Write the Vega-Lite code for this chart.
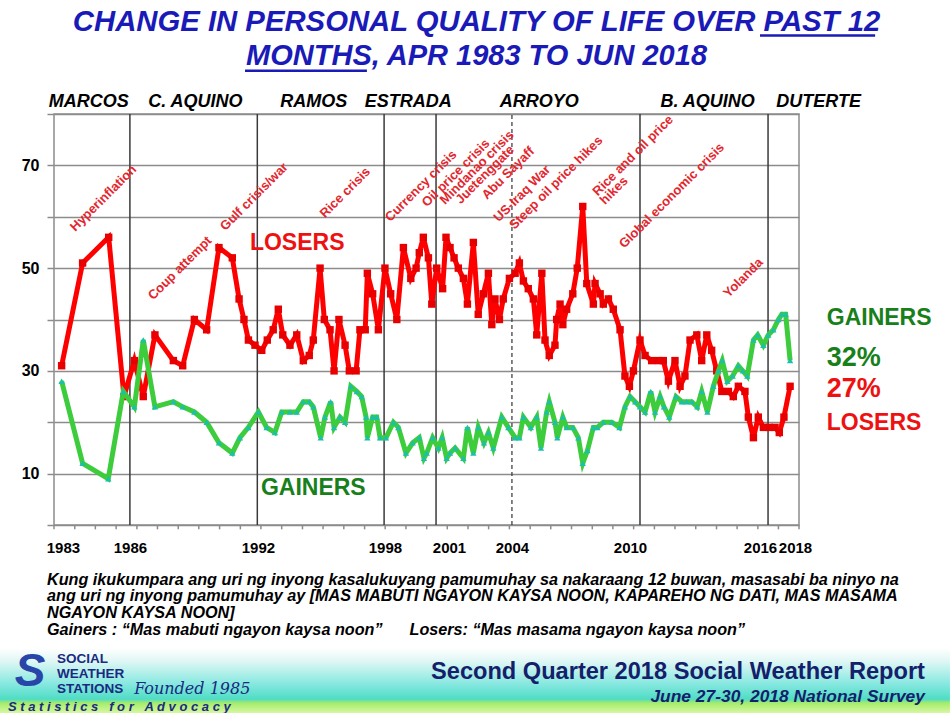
{
  "$schema": "https://vega.github.io/schema/vega-lite/v6.json",
  "width": 745,
  "height": 411,
  "autosize": {"type": "none"},
  "padding": {"left": 54, "top": 114, "right": 151, "bottom": 188},
  "background": "#ffffff",
  "config": {"view": {"stroke": "#8c8c8c", "strokeWidth": 1.5}, "font": "Liberation Sans"},
  "datasets": {
    "losers": [
      {"year": 1983.18, "pct": 31}, {"year": 1984.17, "pct": 51}, {"year": 1985.40, "pct": 56}, {"year": 1986.12, "pct": 25},
      {"year": 1986.61, "pct": 32}, {"year": 1987.03, "pct": 25}, {"year": 1987.58, "pct": 37}, {"year": 1988.45, "pct": 32},
      {"year": 1988.89, "pct": 31}, {"year": 1989.44, "pct": 40}, {"year": 1990.02, "pct": 38}, {"year": 1990.60, "pct": 54},
      {"year": 1991.23, "pct": 52}, {"year": 1991.55, "pct": 44}, {"year": 1991.78, "pct": 40}, {"year": 1991.99, "pct": 36},
      {"year": 1992.30, "pct": 35}, {"year": 1992.62, "pct": 34}, {"year": 1992.88, "pct": 36}, {"year": 1993.16, "pct": 38},
      {"year": 1993.40, "pct": 42}, {"year": 1993.61, "pct": 37}, {"year": 1993.95, "pct": 35}, {"year": 1994.27, "pct": 37},
      {"year": 1994.58, "pct": 32}, {"year": 1994.86, "pct": 33}, {"year": 1995.05, "pct": 36}, {"year": 1995.37, "pct": 50},
      {"year": 1995.57, "pct": 40}, {"year": 1995.84, "pct": 38}, {"year": 1996.03, "pct": 30}, {"year": 1996.26, "pct": 40},
      {"year": 1996.55, "pct": 35}, {"year": 1996.75, "pct": 30}, {"year": 1997.07, "pct": 30}, {"year": 1997.25, "pct": 38},
      {"year": 1997.50, "pct": 38}, {"year": 1997.60, "pct": 49}, {"year": 1997.85, "pct": 45}, {"year": 1998.12, "pct": 38},
      {"year": 1998.43, "pct": 50}, {"year": 1998.70, "pct": 45}, {"year": 1998.99, "pct": 40}, {"year": 1999.30, "pct": 54},
      {"year": 1999.65, "pct": 48}, {"year": 1999.90, "pct": 50}, {"year": 2000.05, "pct": 53}, {"year": 2000.24, "pct": 56},
      {"year": 2000.48, "pct": 52}, {"year": 2000.64, "pct": 43}, {"year": 2000.87, "pct": 50}, {"year": 2001.15, "pct": 46},
      {"year": 2001.31, "pct": 56}, {"year": 2001.50, "pct": 54}, {"year": 2001.69, "pct": 52}, {"year": 2001.89, "pct": 50},
      {"year": 2002.13, "pct": 48}, {"year": 2002.32, "pct": 43}, {"year": 2002.60, "pct": 55}, {"year": 2002.83, "pct": 41},
      {"year": 2003.07, "pct": 45}, {"year": 2003.31, "pct": 49}, {"year": 2003.47, "pct": 39}, {"year": 2003.62, "pct": 44},
      {"year": 2003.83, "pct": 40}, {"year": 2004.01, "pct": 44}, {"year": 2004.30, "pct": 48}, {"year": 2004.57, "pct": 49},
      {"year": 2004.77, "pct": 51}, {"year": 2004.96, "pct": 47.5}, {"year": 2005.19, "pct": 46}, {"year": 2005.43, "pct": 44},
      {"year": 2005.59, "pct": 37}, {"year": 2005.83, "pct": 49}, {"year": 2005.98, "pct": 36}, {"year": 2006.18, "pct": 33},
      {"year": 2006.45, "pct": 35}, {"year": 2006.53, "pct": 40}, {"year": 2006.69, "pct": 43}, {"year": 2006.82, "pct": 39},
      {"year": 2007.00, "pct": 42}, {"year": 2007.29, "pct": 45}, {"year": 2007.50, "pct": 50}, {"year": 2007.76, "pct": 62},
      {"year": 2007.95, "pct": 47}, {"year": 2008.26, "pct": 43}, {"year": 2008.34, "pct": 47}, {"year": 2008.58, "pct": 45},
      {"year": 2008.73, "pct": 43}, {"year": 2008.97, "pct": 44}, {"year": 2009.20, "pct": 42}, {"year": 2009.52, "pct": 38},
      {"year": 2009.75, "pct": 29}, {"year": 2009.96, "pct": 27}, {"year": 2010.15, "pct": 30}, {"year": 2010.46, "pct": 36},
      {"year": 2010.70, "pct": 33}, {"year": 2011.01, "pct": 32}, {"year": 2011.33, "pct": 32}, {"year": 2011.56, "pct": 32},
      {"year": 2011.80, "pct": 28}, {"year": 2012.11, "pct": 32}, {"year": 2012.35, "pct": 27}, {"year": 2012.58, "pct": 29},
      {"year": 2012.82, "pct": 36}, {"year": 2013.14, "pct": 37}, {"year": 2013.37, "pct": 32}, {"year": 2013.61, "pct": 37},
      {"year": 2013.84, "pct": 34}, {"year": 2014.08, "pct": 30}, {"year": 2014.32, "pct": 26}, {"year": 2014.63, "pct": 26},
      {"year": 2014.86, "pct": 25}, {"year": 2015.10, "pct": 27}, {"year": 2015.41, "pct": 26}, {"year": 2015.57, "pct": 21},
      {"year": 2015.81, "pct": 17}, {"year": 2016.04, "pct": 21}, {"year": 2016.28, "pct": 19}, {"year": 2016.56, "pct": 19},
      {"year": 2016.83, "pct": 19}, {"year": 2017.03, "pct": 18}, {"year": 2017.25, "pct": 21}, {"year": 2017.54, "pct": 27}
    ],
    "gainers": [
      {"year": 1983.18, "pct": 28}, {"year": 1984.17, "pct": 12}, {"year": 1985.38, "pct": 9}, {"year": 1986.09, "pct": 26},
      {"year": 1986.61, "pct": 23}, {"year": 1987.03, "pct": 36}, {"year": 1987.58, "pct": 23}, {"year": 1988.45, "pct": 24},
      {"year": 1988.89, "pct": 23}, {"year": 1989.44, "pct": 22}, {"year": 1990.02, "pct": 20}, {"year": 1990.60, "pct": 16},
      {"year": 1991.23, "pct": 14}, {"year": 1991.59, "pct": 17}, {"year": 1991.99, "pct": 19}, {"year": 1992.46, "pct": 22},
      {"year": 1992.85, "pct": 19}, {"year": 1993.24, "pct": 18}, {"year": 1993.56, "pct": 22}, {"year": 1993.95, "pct": 22},
      {"year": 1994.27, "pct": 22}, {"year": 1994.58, "pct": 24}, {"year": 1994.86, "pct": 24}, {"year": 1995.05, "pct": 23},
      {"year": 1995.40, "pct": 17}, {"year": 1995.60, "pct": 21}, {"year": 1995.87, "pct": 24}, {"year": 1996.03, "pct": 19},
      {"year": 1996.31, "pct": 21}, {"year": 1996.55, "pct": 20}, {"year": 1996.82, "pct": 27}, {"year": 1997.10, "pct": 26},
      {"year": 1997.33, "pct": 25}, {"year": 1997.54, "pct": 21}, {"year": 1997.60, "pct": 17}, {"year": 1997.85, "pct": 21},
      {"year": 1998.04, "pct": 21}, {"year": 1998.20, "pct": 17}, {"year": 1998.48, "pct": 17}, {"year": 1998.83, "pct": 20},
      {"year": 1999.06, "pct": 19}, {"year": 1999.42, "pct": 14}, {"year": 1999.74, "pct": 16}, {"year": 2000.05, "pct": 17},
      {"year": 2000.27, "pct": 13}, {"year": 2000.40, "pct": 14}, {"year": 2000.68, "pct": 17}, {"year": 2000.95, "pct": 15},
      {"year": 2001.13, "pct": 17}, {"year": 2001.34, "pct": 13}, {"year": 2001.50, "pct": 14}, {"year": 2001.74, "pct": 15},
      {"year": 2002.13, "pct": 13}, {"year": 2002.32, "pct": 19}, {"year": 2002.60, "pct": 14}, {"year": 2002.83, "pct": 19},
      {"year": 2003.10, "pct": 16}, {"year": 2003.31, "pct": 18}, {"year": 2003.54, "pct": 15}, {"year": 2003.94, "pct": 21},
      {"year": 2004.25, "pct": 19}, {"year": 2004.57, "pct": 17}, {"year": 2004.77, "pct": 17}, {"year": 2004.96, "pct": 21},
      {"year": 2005.31, "pct": 19}, {"year": 2005.59, "pct": 21}, {"year": 2005.79, "pct": 15}, {"year": 2006.06, "pct": 22},
      {"year": 2006.18, "pct": 24}, {"year": 2006.45, "pct": 20}, {"year": 2006.56, "pct": 17}, {"year": 2006.82, "pct": 21},
      {"year": 2007.00, "pct": 19}, {"year": 2007.29, "pct": 19}, {"year": 2007.55, "pct": 17}, {"year": 2007.76, "pct": 12},
      {"year": 2007.98, "pct": 14.5}, {"year": 2008.26, "pct": 19}, {"year": 2008.45, "pct": 19}, {"year": 2008.73, "pct": 20},
      {"year": 2009.13, "pct": 20}, {"year": 2009.49, "pct": 19}, {"year": 2009.75, "pct": 23}, {"year": 2009.99, "pct": 25},
      {"year": 2010.23, "pct": 24}, {"year": 2010.46, "pct": 23}, {"year": 2010.70, "pct": 22}, {"year": 2010.97, "pct": 26},
      {"year": 2011.17, "pct": 22}, {"year": 2011.41, "pct": 25}, {"year": 2011.59, "pct": 23}, {"year": 2011.84, "pct": 21},
      {"year": 2012.16, "pct": 25}, {"year": 2012.43, "pct": 24}, {"year": 2012.66, "pct": 24}, {"year": 2012.90, "pct": 24},
      {"year": 2013.16, "pct": 23}, {"year": 2013.37, "pct": 26}, {"year": 2013.64, "pct": 22}, {"year": 2013.92, "pct": 27},
      {"year": 2014.16, "pct": 30}, {"year": 2014.34, "pct": 32}, {"year": 2014.58, "pct": 28}, {"year": 2014.83, "pct": 29},
      {"year": 2015.10, "pct": 31}, {"year": 2015.31, "pct": 30}, {"year": 2015.52, "pct": 29}, {"year": 2015.81, "pct": 36},
      {"year": 2016.01, "pct": 37}, {"year": 2016.28, "pct": 35}, {"year": 2016.51, "pct": 37}, {"year": 2016.75, "pct": 38},
      {"year": 2016.99, "pct": 40}, {"year": 2017.15, "pct": 41}, {"year": 2017.33, "pct": 41}, {"year": 2017.54, "pct": 32}
    ]
  },
  "layer": [
    {
      "data": {"values": [{}]},
      "mark": {"type": "rect", "fill": {"gradient": "linear", "x1": 0, "y1": 0, "x2": 0, "y2": 1,
        "stops": [
          {"offset": 0, "color": "#ffffff"},
          {"offset": 0.2, "color": "#dff7f5"},
          {"offset": 0.55, "color": "#86e8e0"},
          {"offset": 0.78, "color": "#4fdcc4"},
          {"offset": 0.84, "color": "#a6ec6a"},
          {"offset": 1, "color": "#d9f8a6"}
        ]}},
      "encoding": {
        "x": {"datum": 1980.27, "type": "quantitative"}, "x2": {"datum": 2025.08},
        "y": {"datum": -23.96, "type": "quantitative"}, "y2": {"datum": -36.7}
      }
    },
    {
      "data": {"values": [{"year": 1986.40}, {"year": 1992.41}, {"year": 1998.39}, {"year": 2000.84}, {"year": 2010.46}, {"year": 2016.50}]},
      "mark": {"type": "rule", "color": "#3a3a3a", "strokeWidth": 1.5},
      "encoding": {
        "x": {"field": "year", "type": "quantitative"},
        "y": {"datum": 0, "type": "quantitative"}, "y2": {"datum": 80}
      }
    },
    {
      "data": {"values": [{"year": 2004.42}]},
      "mark": {"type": "rule", "color": "#333333", "strokeWidth": 1.2, "strokeDash": [4, 3]},
      "encoding": {
        "x": {"field": "year", "type": "quantitative"},
        "y": {"datum": 0, "type": "quantitative"}, "y2": {"datum": 80}
      }
    },
    {
      "data": {"values": [
        {"year": 1982.82}, {"year": 1983.80}, {"year": 1984.77}, {"year": 1985.75}, {"year": 1986.73}, {"year": 1987.70},
        {"year": 1988.68}, {"year": 1989.65}, {"year": 1990.63}, {"year": 1991.61}, {"year": 1992.58}, {"year": 1993.56},
        {"year": 1994.54}, {"year": 1995.51}, {"year": 1996.49}, {"year": 1997.47}, {"year": 1998.44}, {"year": 1999.42},
        {"year": 2000.40}, {"year": 2001.37}, {"year": 2002.35}, {"year": 2003.32}, {"year": 2004.30}, {"year": 2005.28},
        {"year": 2006.25}, {"year": 2007.23}, {"year": 2008.21}, {"year": 2009.18}, {"year": 2010.16}, {"year": 2011.14},
        {"year": 2012.11}, {"year": 2013.09}, {"year": 2014.07}, {"year": 2015.04}, {"year": 2016.02}, {"year": 2016.99},
        {"year": 2017.96}
      ]},
      "mark": {"type": "rule", "color": "#8c8c8c", "strokeWidth": 1.5},
      "encoding": {
        "x": {"field": "year", "type": "quantitative"},
        "y": {"datum": 0, "type": "quantitative"}, "y2": {"datum": -0.85}
      }
    },
    {
      "data": {"name": "losers"},
      "mark": {"type": "line", "color": "#ff0000", "strokeWidth": 5,
        "point": {"shape": "square", "size": 55, "filled": true, "color": "#e80000"}},
      "encoding": {
        "x": {
          "field": "year", "type": "quantitative",
          "scale": {"domain": [1982.82, 2017.96], "nice": false, "zero": false},
          "axis": {
            "values": [1983.24, 1986.4, 1992.44, 1998.43, 2001.45, 2004.42, 2009.99, 2016.12, 2017.77],
            "labelExpr": "format(round(datum.value), 'd')",
            "ticks": false, "domain": false, "grid": false,
            "labelFont": "Liberation Sans", "labelFontWeight": "bold", "labelFontSize": 15, "labelColor": "#000000",
            "labelPadding": 15, "labelFlush": false, "labelOverlap": false, "title": null
          }
        },
        "y": {
          "field": "pct", "type": "quantitative",
          "scale": {"domain": [0, 80], "nice": false},
          "axis": {
            "values": [0, 10, 20, 30, 40, 50, 60, 70, 80],
            "labelExpr": "datum.value % 20 == 10 ? datum.label : ''",
            "grid": true, "gridColor": "#8c8c8c", "gridWidth": 1.5,
            "tickSize": 7, "tickColor": "#8c8c8c", "tickWidth": 1.5, "domain": false,
            "labelFont": "Liberation Sans", "labelFontWeight": "bold", "labelFontSize": 16, "labelColor": "#000000",
            "labelPadding": 8, "title": null
          }
        }
      }
    },
    {
      "data": {"name": "gainers"},
      "mark": {"type": "line", "color": "#3ccc3c", "strokeWidth": 5,
        "point": {"shape": "triangle-up", "size": 40, "filled": true, "color": "#1cc0a8"}},
      "encoding": {"x": {"field": "year", "type": "quantitative"}, "y": {"field": "pct", "type": "quantitative"}}
    },
    {
      "data": {"values": [
        {"year": 1985.15, "pct": 63.6, "label": "Hyperinflation"},
        {"year": 1988.76, "pct": 50.0, "label": "Coup attempt"},
        {"year": 1992.26, "pct": 63.9, "label": "Gulf crisis/war"},
        {"year": 1996.55, "pct": 64.7, "label": "Rice crisis"},
        {"year": 2000.13, "pct": 66.0, "label": "Currency  crisis"},
        {"year": 2001.78, "pct": 68.5, "label": "Oil price crisis"},
        {"year": 2002.77, "pct": 69.6, "label": "Mindanao crisis"},
        {"year": 2003.15, "pct": 68.2, "label": "Juetenggate"},
        {"year": 2004.24, "pct": 68.5, "label": "Abu Sayaff"},
        {"year": 2004.90, "pct": 64.5, "label": "US-Iraq War"},
        {"year": 2006.50, "pct": 66.6, "label": "Steep oil price hikes"},
        {"year": 2010.13, "pct": 71.9, "label": "Rice and oil price"},
        {"year": 2009.23, "pct": 65.1, "label": "hikes"},
        {"year": 2011.96, "pct": 64.1, "label": "Global economic crisis"},
        {"year": 2015.33, "pct": 48.1, "label": "Yolanda"}
      ]},
      "mark": {"type": "text", "angle": 315, "font": "Liberation Sans", "fontWeight": "bold", "fontSize": 13,
        "color": "#e3262e", "align": "center", "baseline": "middle"},
      "encoding": {"x": {"field": "year", "type": "quantitative"}, "y": {"field": "pct", "type": "quantitative"}, "text": {"field": "label"}}
    },
    {
      "data": {"values": [{"year": 1992.06, "pct": 54.9, "label": "LOSERS"}, {"year": 2019.27, "pct": 19.8, "label": "LOSERS"}]},
      "mark": {"type": "text", "font": "Liberation Sans", "fontWeight": "bold", "fontSize": 23, "color": "#ee1111", "align": "left", "baseline": "middle"},
      "encoding": {"x": {"field": "year", "type": "quantitative"}, "y": {"field": "pct", "type": "quantitative"}, "text": {"field": "label"}}
    },
    {
      "data": {"values": [{"year": 2019.27, "pct": 26.5, "label": "27%"}]},
      "mark": {"type": "text", "font": "Liberation Sans", "fontWeight": "bold", "fontSize": 27, "color": "#ee1111", "align": "left", "baseline": "middle"},
      "encoding": {"x": {"field": "year", "type": "quantitative"}, "y": {"field": "pct", "type": "quantitative"}, "text": {"field": "label"}}
    },
    {
      "data": {"values": [{"year": 1992.58, "pct": 7.15, "label": "GAINERS"}, {"year": 2019.27, "pct": 40.2, "label": "GAINERS"}]},
      "mark": {"type": "text", "font": "Liberation Sans", "fontWeight": "bold", "fontSize": 23, "color": "#17801a", "align": "left", "baseline": "middle"},
      "encoding": {"x": {"field": "year", "type": "quantitative"}, "y": {"field": "pct", "type": "quantitative"}, "text": {"field": "label"}}
    },
    {
      "data": {"values": [{"year": 2019.27, "pct": 32.5, "label": "32%"}]},
      "mark": {"type": "text", "font": "Liberation Sans", "fontWeight": "bold", "fontSize": 27, "color": "#17801a", "align": "left", "baseline": "middle"},
      "encoding": {"x": {"field": "year", "type": "quantitative"}, "y": {"field": "pct", "type": "quantitative"}, "text": {"field": "label"}}
    },
    {
      "data": {"values": [
        {"year": 1984.46, "label": "MARCOS"}, {"year": 1989.49, "label": "C. AQUINO"}, {"year": 1995.07, "label": "RAMOS"},
        {"year": 1999.53, "label": "ESTRADA"}, {"year": 2005.71, "label": "ARROYO"}, {"year": 2013.65, "label": "B. AQUINO"},
        {"year": 2018.89, "label": "DUTERTE"}
      ]},
      "mark": {"type": "text", "font": "Liberation Sans", "fontWeight": "bold", "fontStyle": "italic", "fontSize": 18, "color": "#000000", "align": "center", "baseline": "middle"},
      "encoding": {"x": {"field": "year", "type": "quantitative"}, "y": {"datum": 82.4, "type": "quantitative"}, "text": {"field": "label"}}
    },
    {
      "data": {"values": [{}]},
      "mark": {"type": "text", "text": "CHANGE IN PERSONAL QUALITY OF LIFE OVER PAST 12", "font": "Liberation Sans", "fontWeight": "bold", "fontStyle": "italic", "fontSize": 29.3, "color": "#1a1ab8", "align": "center", "baseline": "middle"},
      "encoding": {"x": {"datum": 2002.75, "type": "quantitative"}, "y": {"datum": 98.0, "type": "quantitative"}}
    },
    {
      "data": {"values": [{}]},
      "mark": {"type": "text", "text": "MONTHS, APR 1983 TO JUN 2018", "font": "Liberation Sans", "fontWeight": "bold", "fontStyle": "italic", "fontSize": 29, "color": "#1a1ab8", "align": "center", "baseline": "middle"},
      "encoding": {"x": {"datum": 2002.75, "type": "quantitative"}, "y": {"datum": 91.2, "type": "quantitative"}}
    },
    {
      "data": {"values": [{}]},
      "mark": {"type": "rule", "color": "#1a1ab8", "strokeWidth": 2.5},
      "encoding": {"x": {"datum": 2016.12, "type": "quantitative"}, "x2": {"datum": 2021.55}, "y": {"datum": 95.3, "type": "quantitative"}}
    },
    {
      "data": {"values": [{}]},
      "mark": {"type": "rule", "color": "#1a1ab8", "strokeWidth": 2.5},
      "encoding": {"x": {"datum": 1991.83, "type": "quantitative"}, "x2": {"datum": 1997.58}, "y": {"datum": 88.4, "type": "quantitative"}}
    },
    {
      "data": {"values": [{}]},
      "mark": {"type": "text", "text": [
        "Kung ikukumpara ang uri ng inyong kasalukuyang pamumuhay sa nakaraang 12 buwan, masasabi ba ninyo na",
        "ang uri ng inyong pamumuhay ay [MAS MABUTI NGAYON KAYSA NOON, KAPAREHO NG DATI, MAS MASAMA",
        "NGAYON KAYSA NOON]",
        "Gainers : “Mas mabuti ngayon kaysa noon”\u00a0\u00a0\u00a0\u00a0\u00a0\u00a0Losers: “Mas masama ngayon kaysa noon”"
      ], "font": "Liberation Sans", "fontWeight": "bold", "fontStyle": "italic", "fontSize": 16.2, "lineHeight": 16.7, "color": "#000000", "align": "left", "baseline": "top"},
      "encoding": {"x": {"datum": 1982.49, "type": "quantitative"}, "y": {"datum": -9.1, "type": "quantitative"}}
    },
    {
      "data": {"values": [{}]},
      "mark": {"type": "text", "text": "Second Quarter 2018 Social Weather Report", "font": "Liberation Sans", "fontWeight": "bold", "fontSize": 23.6, "color": "#14206a", "align": "right", "baseline": "middle"},
      "encoding": {"x": {"datum": 2023.9, "type": "quantitative"}, "y": {"datum": -28.64, "type": "quantitative"}}
    },
    {
      "data": {"values": [{}]},
      "mark": {"type": "text", "text": "June 27-30, 2018 National Survey", "font": "Liberation Sans", "fontWeight": "bold", "fontStyle": "italic", "fontSize": 17.4, "color": "#14206a", "align": "right", "baseline": "middle"},
      "encoding": {"x": {"datum": 2023.9, "type": "quantitative"}, "y": {"datum": -33.51, "type": "quantitative"}}
    },
    {
      "data": {"values": [{}]},
      "mark": {"type": "text", "text": ["SOCIAL", "WEATHER", "STATIONS"], "font": "Liberation Sans", "fontWeight": "bold", "fontSize": 13.5, "lineHeight": 15, "color": "#1a2a80", "align": "left", "baseline": "top"},
      "encoding": {"x": {"datum": 1982.96, "type": "quantitative"}, "y": {"datum": -24.8, "type": "quantitative"}}
    },
    {
      "data": {"values": [{}]},
      "mark": {"type": "text", "text": "Founded 1985", "font": "DejaVu Serif", "fontStyle": "italic", "fontSize": 16, "color": "#1a2a80", "align": "left", "baseline": "middle"},
      "encoding": {"x": {"datum": 1986.6, "type": "quantitative"}, "y": {"datum": -31.95, "type": "quantitative"}}
    },
    {
      "data": {"values": [{}]},
      "mark": {"type": "text", "text": "S t a t i s t i c s\u00a0\u00a0\u00a0f o r\u00a0\u00a0\u00a0A d v o c a c y", "font": "Liberation Sans", "fontStyle": "italic", "fontWeight": "bold", "fontSize": 13, "color": "#1a2a80", "align": "left", "baseline": "middle"},
      "encoding": {"x": {"datum": 1980.65, "type": "quantitative"}, "y": {"datum": -35.4, "type": "quantitative"}}
    },
    {
      "data": {"values": [{}]},
      "mark": {"type": "text", "text": "S", "font": "Liberation Sans", "fontStyle": "italic", "fontWeight": "bold", "fontSize": 46, "color": "#2846a8", "align": "center", "baseline": "middle"},
      "encoding": {"x": {"datum": 1981.69, "type": "quantitative"}, "y": {"datum": -28.6, "type": "quantitative"}}
    }
  ]
}
